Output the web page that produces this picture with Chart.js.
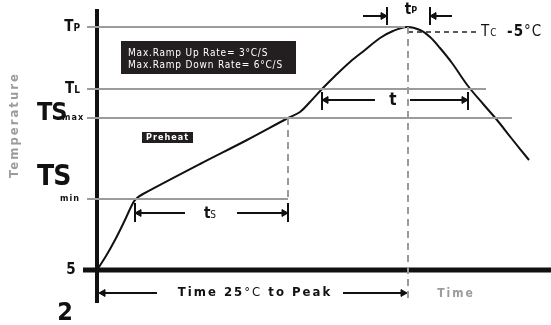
<!DOCTYPE html>
<html>
<head>
<meta charset="utf-8">
<script src="https://cdn.jsdelivr.net/npm/chart.js@4"></script>
<style>
html,body{margin:0;padding:0;background:#fff;}
canvas{display:block;}
</style>
</head>
<body>
<canvas id="c" width="551" height="325"></canvas>
<script>
// ---- Data (time units from the 25°C origin, temperature units above baseline) ----
const profileTime = [0, 9, 18, 27, 36, 40, 46, 103, 150, 191, 203, 213, 225, 238, 253, 268, 283, 296, 310, 323, 333, 343, 355, 371, 387, 400, 415, 432];
const profileTemp = [0, 14, 30, 48, 67, 72, 76, 106, 130, 152, 158, 168, 181, 194, 208, 220, 232, 239, 243, 240, 233, 222, 207, 184, 165, 150, 131, 110];

const levelNames  = ['TP', 'TL', 'TSmax', 'TSmin'];
const levelValues = [243, 181, 152, 71];
const levelEnds   = [308, 389, 415, 191];

const tsStart = 38, tsEnd = 191;      // preheat window
const tlStart = 225, tlEnd = 371;     // time above liquidus
const tpStart = 290, tpEnd = 333;     // time near peak
const peakTime = 311;
const tcLevel = 238, tcEnd = 381;

const xMin = -97, xMax = 454, yMin = -55, yMax = 270;

const boxLines = ['Max.Ramp Up Rate= 3°C/S', 'Max.Ramp Down Rate= 6°C/S'];

// ---- Build datasets ----
const FONT = "'Liberation Sans Narrow','DejaVu Sans Condensed','Arial Narrow',sans-serif";
const GRAY = '#9b9b9b';
const datasets = [];
function seg(pts, color, width, dash, extra) {
  datasets.push(Object.assign({
    data: pts.map(p => ({x: p[0], y: p[1]})),
    showLine: true, borderColor: color, borderWidth: width,
    borderDash: dash || [], pointRadius: 0, fill: false, tension: 0
  }, extra || {}));
}
// reference level lines
levelValues.forEach((v, i) => seg([[-10, v], [levelEnds[i], v]], GRAY, 2));
// dashed verticals
seg([[tsEnd, levelValues[2]], [tsEnd, levelValues[3]]], GRAY, 2, [7, 5]);
seg([[peakTime, levelValues[0]], [peakTime, -30]], GRAY, 2, [7, 5]);
// Tc dashed
seg([[peakTime, tcLevel], [tcEnd, tcLevel]], '#222', 1.5, [5, 4]);
// axes
seg([[0, 261], [0, -33]], '#111', 4);
seg([[-14, 0], [xMax, 0]], '#111', 5);
// profile curve
datasets.push({
  data: profileTime.map((t, i) => ({x: t, y: profileTemp[i]})),
  showLine: true, borderColor: '#111', borderWidth: 2, pointRadius: 0,
  fill: false, tension: 0.35
});
// arrows: [from, to] with head at "to"
function arrow(x1, x2, y) {
  const dir = x2 > x1 ? 90 : -90;
  const back = x2 > x1 ? -3 : 3;
  seg([[x1, y], [x2, y]], '#111', 2);
  datasets.push({
    data: [{x: x2 + back, y: y}], showLine: false,
    pointStyle: 'triangle', pointRadius: 4, rotation: dir,
    backgroundColor: '#111', borderColor: '#111', borderWidth: 1
  });
}
function bar(x, y1, y2) { seg([[x, y1], [x, y2]], '#111', 2); }
// tp
arrow(266, 289, 254); bar(290, 263, 245);
arrow(355, 334, 254); bar(333, 263, 245);
// t
bar(tlStart, 178, 160); arrow(278, tlStart + 1, 170);
arrow(313, tlEnd - 1, 170); bar(tlEnd, 178, 160);
// ts
bar(tsStart, 67, 48); arrow(88, tsStart + 1, 57);
arrow(140, tsEnd - 1, 57); bar(tsEnd, 67, 48);
// time to peak
arrow(60, 3, -23);
arrow(246, peakTime - 2, -23);

// ---- Text annotations plugin ----
function rich(ctx, segs, x, y, align, spacing) {
  ctx.save();
  ctx.letterSpacing = (spacing || 0) + 'px';
  ctx.textBaseline = 'middle';
  ctx.textAlign = 'left';
  const w = segs.map(s => { ctx.font = s.font; return ctx.measureText(s.text).width; });
  const total = w.reduce((a, b) => a + b, 0);
  let sx = align === 'center' ? x - total / 2 : align === 'right' ? x - total : x;
  segs.forEach((s, i) => {
    ctx.font = s.font; ctx.fillStyle = s.color || '#111';
    ctx.fillText(s.text, sx, y + (s.dy || 0));
    sx += w[i];
  });
  ctx.restore();
}
const B = (px) => 'bold ' + px + 'px ' + FONT;
const N = (px) => px + 'px ' + FONT;

const annot = {
  id: 'annot',
  afterDatasetsDraw(chart) {
    const ctx = chart.ctx, xs = chart.scales.x, ys = chart.scales.y;
    const X = v => xs.getPixelForValue(v), Y = v => ys.getPixelForValue(v);
    // info box
    ctx.fillStyle = '#231f20';
    ctx.fillRect(X(24), Y(229), X(199) - X(24), Y(196) - Y(229));
    rich(ctx, [{text: boxLines[0], font: N(10), color: '#fff'}], X(31), Y(217), 'left', 0.8);
    rich(ctx, [{text: boxLines[1], font: N(10), color: '#fff'}], X(31), Y(205), 'left', 0.8);
    // preheat box
    ctx.fillStyle = '#231f20';
    ctx.fillRect(X(45), Y(138), X(96) - X(45), Y(127) - Y(138));
    rich(ctx, [{text: 'Preheat', font: B(9), color: '#fff'}], X(70.5), Y(132.5), 'center', 1);
    // level labels
    rich(ctx, [{text: 'T', font: B(15)}, {text: 'P', font: B(10), dy: 1}], X(-17), Y(levelValues[0]), 'right', 0);
    rich(ctx, [{text: 'T', font: B(15)}, {text: 'L', font: B(10), dy: 1}], X(-17), Y(levelValues[1]), 'right', 0);
    rich(ctx, [{text: 'TS', font: B(25)}], X(-60), Y(157), 'left', -1);
    rich(ctx, [{text: 'max', font: B(9)}], X(-35), Y(152), 'left', 1);
    rich(ctx, [{text: 'TS', font: B(28)}], X(-60), Y(92), 'left', -1);
    rich(ctx, [{text: 'min', font: B(9)}], X(-37), Y(levelValues[3]), 'left', 1);
    rich(ctx, [{text: '5', font: B(15)}], X(-26), Y(0), 'center', 0);
    rich(ctx, [{text: '2', font: B(25)}], X(-32), Y(-43), 'center', 0);
    // Temperature
    ctx.save();
    ctx.translate(X(-82), Y(145));
    ctx.rotate(-Math.PI / 2);
    rich(ctx, [{text: 'Temperature', font: B(13), color: '#9b9b9b'}], 0, 0, 'center', 2);
    ctx.restore();
    // time labels
    rich(ctx, [{text: 't', font: B(15)}, {text: 'P', font: B(9), dy: 1}], X(314), Y(260), 'center', 0);
    rich(ctx, [{text: 't', font: B(17)}], X(296), Y(169), 'center', 0);
    rich(ctx, [{text: 't', font: B(15)}, {text: 'S', font: N(10), dy: 1}], X(113), Y(56), 'center', 0);
    rich(ctx, [{text: 'T', font: N(15)}, {text: 'C ', font: N(10), dy: 1}, {text: ' -5', font: B(15)}, {text: '°C', font: N(15)}], X(384), Y(tcLevel), 'left', 1);
    rich(ctx, [{text: 'Time 25', font: B(13)}, {text: '°C', font: N(13)}, {text: ' to Peak', font: B(13)}], X(158), Y(-23), 'center', 2);
    rich(ctx, [{text: 'Time', font: B(12), color: '#9b9b9b'}], X(359), Y(-24), 'center', 2);
  }
};

new Chart(document.getElementById('c'), {
  type: 'scatter',
  data: {datasets},
  options: {
    responsive: false, animation: false, devicePixelRatio: 1, events: [],
    layout: {padding: 0, autoPadding: false},
    plugins: {legend: {display: false}, tooltip: {enabled: false}},
    scales: {
      x: {type: 'linear', min: xMin, max: xMax, display: false},
      y: {type: 'linear', min: yMin, max: yMax, display: false}
    }
  },
  plugins: [annot]
});
</script>
</body>
</html>
